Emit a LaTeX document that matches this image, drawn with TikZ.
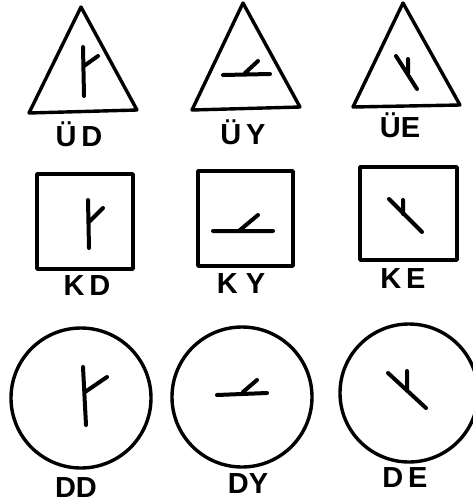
\documentclass[tikz,border=0pt]{standalone}
\usepackage{fontspec}
\setmainfont{Liberation Sans}
\begin{document}
\begin{tikzpicture}[x=1pt,y=-1pt,line join=round,
  outline/.style={line width=3.4pt},
  sym/.style={line width=4pt,line cap=round},
  lbl/.style={font=\fontsize{29}{29}\selectfont\bfseries,inner sep=0pt}]
\useasboundingbox (0,0) rectangle (473,504);
% --- row 1: triangles
\draw[outline] (81,7) -- (29,113) -- (137,110) -- cycle;
\draw[sym] (83,47) -- (84,96) (84,66) -- (98,56);
\node[lbl] (ud) at (79,134) {Ü\,D};
\draw[outline] (243,3) -- (192,110) -- (300,107) -- cycle;
\draw[sym] (223,75) -- (270,74) (245,73) -- (258,61);
\node[lbl] (uy) at (243,132) {Ü\,Y};
\draw[outline] (403,3) -- (353,107) -- (460,105) -- cycle;
\draw[sym] (396,56) -- (417,89) (408,59) -- (408,73);
\node[lbl] (ue) at (400,125) {ÜE};
% --- row 2: squares
\draw[outline] (37,174) rectangle (133,269);
\draw[sym] (88,200) -- (89,248) (89,222) -- (103,208);
\node[lbl] (kd) at (87,286) {K\,D};
\draw[outline] (198,171) rectangle (293,266);
\draw[sym] (213,231) -- (273,231) (240,230) -- (258,215);
\node[lbl] (ky) at (241,284) {K\;Y};
\draw[outline] (360,167) rectangle (457,260);
\draw[sym] (389,199) -- (422,232) (403,200) -- (403,214);
\node[lbl] (ke) at (403,279) {K\,E};
% --- row 3: circles
\draw[outline] (81,398) circle[radius=70pt];
\draw[sym] (83,367) -- (86,425) (85,392) -- (107,377);
\node[lbl] (dd) at (76,488) {DD};
\draw[outline] (242,397) circle[radius=70pt];
\draw[sym] (217,395) -- (267,393) (243,392) -- (257,380);
\node[lbl] (dy) at (248,484) {DY};
\draw[outline] (409,393) circle[radius=69pt];
\draw[sym] (388,373) -- (426,408) (407,371) -- (407,390);
\node[lbl] (de) at (405,478) {D\,E};
\end{tikzpicture}
\end{document}
